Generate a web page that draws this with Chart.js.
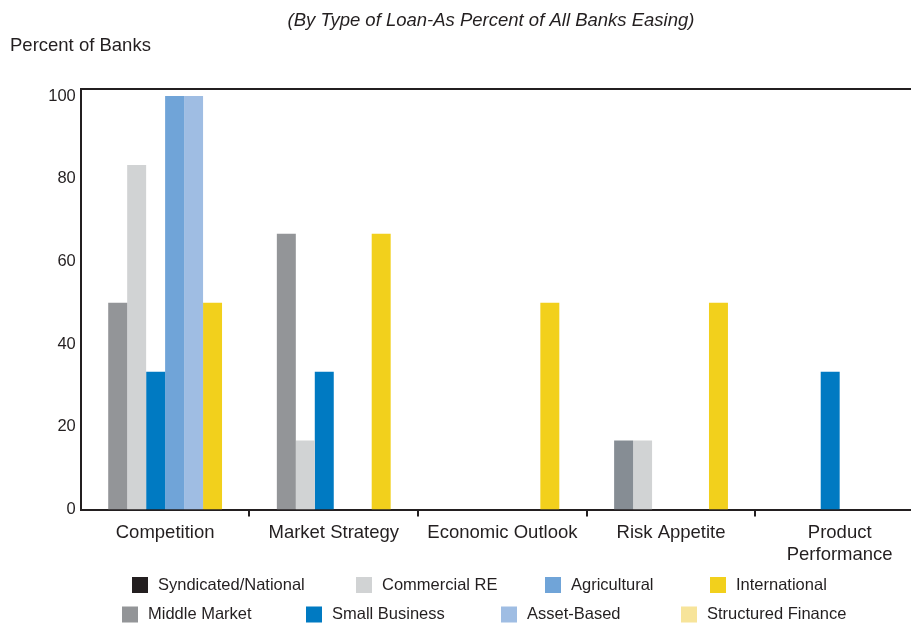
<!DOCTYPE html>
<html>
<head>
<meta charset="utf-8">
<script src="https://cdn.jsdelivr.net/npm/chart.js@4"></script>
<style>
  html, body { margin: 0; padding: 0; background: #ffffff; overflow: hidden; width: 911px; height: 623px; }
  /* the plot runs slightly past the right edge of the window */
  #wrap { width: 924px; height: 623px; position: relative; }
</style>
</head>
<body>
<div id="wrap"><canvas id="chart"></canvas></div>
<script>
// Reasons for easing, by type of loan (percent of all banks easing)
const categories = ['Competition', 'Market Strategy', 'Economic Outlook', 'Risk Appetite', ['Product', 'Performance']];
const yTickValues = [0, 20, 40, 60, 80, 100];

const syndicatedNational = [0, 0, 0, 0, 0];
const middleMarket       = [50, 66.7, 0, 16.7, 0];
const commercialRE       = [83.3, 16.7, 0, 16.7, 0];
const smallBusiness      = [33.3, 33.3, 0, 0, 33.3];
const agricultural       = [100, 0, 0, 0, 0];
const assetBased         = [100, 0, 0, 0, 0];
const international      = [50, 66.7, 50, 50, 0];
const structuredFinance  = [0, 0, 0, 0, 0];

const INK = '#231f20';
const FONT = "'Liberation Sans', Arial, Helvetica, sans-serif";

// Legend drawn below the axis in two rows, in this dataset order
const legendRows = [[0, 2, 4, 6], [1, 3, 5, 7]];
const legendLayout = {
  rowY: [585, 614.5],
  colX: [[132, 356, 545, 710], [122, 306, 501, 681]],
  box: 16,
  textGap: 26
};

const overlayText = {
  id: 'overlayText',
  afterDraw(chart) {
    const ctx = chart.ctx;
    ctx.save();
    ctx.fillStyle = INK;
    ctx.textBaseline = 'middle';

    ctx.font = 'italic 18.5px ' + FONT;
    ctx.textAlign = 'center';
    ctx.fillText('(By Type of Loan-As Percent of All Banks Easing)', 491, 21);

    ctx.font = '18.5px ' + FONT;
    ctx.textAlign = 'left';
    ctx.fillText('Percent of Banks', 10, 46);

    ctx.font = '16.5px ' + FONT;
    legendRows.forEach((row, r) => {
      row.forEach((di, c) => {
        const ds = chart.data.datasets[di];
        const x = legendLayout.colX[r][c];
        const y = legendLayout.rowY[r];
        ctx.fillStyle = ds.legendColor;
        ctx.fillRect(x, y - legendLayout.box / 2, legendLayout.box, legendLayout.box);
        ctx.fillStyle = INK;
        ctx.fillText(ds.label, x + legendLayout.textGap, y);
      });
    });
    ctx.restore();
  }
};

function series(label, data, color, colors) {
  return {
    label,
    data,
    backgroundColor: colors || color,
    legendColor: color,
    borderWidth: 0,
    categoryPercentage: 0.9,
    barPercentage: 1.0
  };
}

new Chart(document.getElementById('chart'), {
  type: 'bar',
  data: {
    labels: categories,
    datasets: [
      series('Syndicated/National', syndicatedNational, '#231f20'),
      series('Middle Market', middleMarket, '#939598',
             ['#939598', '#939598', '#939598', '#868d94', '#939598']),
      series('Commercial RE', commercialRE, '#d1d3d4'),
      series('Small Business', smallBusiness, '#007ac2'),
      series('Agricultural', agricultural, '#70a4d8'),
      series('Asset-Based', assetBased, '#9fbde3'),
      series('International', international, '#f2d01c'),
      series('Structured Finance', structuredFinance, '#f7e49a')
    ]
  },
  options: {
    responsive: true,
    maintainAspectRatio: false,
    animation: false,
    events: [],
    layout: { padding: { top: 89, left: 0.8, right: 0, bottom: 48.5 } },
    plugins: {
      legend: { display: false },
      title: { display: false },
      tooltip: { enabled: false }
    },
    scales: {
      x: {
        position: 'bottom',
        offset: true,
        grid: {
          display: true,
          offset: true,
          drawOnChartArea: false,
          drawTicks: true,
          tickLength: 7,
          lineWidth: 2,
          tickWidth: 2,
          color: INK,
          tickColor: (ctx) => (ctx.index === 0 || ctx.index === categories.length) ? 'rgba(0,0,0,0)' : INK
        },
        border: { display: true, color: INK, width: 2 },
        ticks: {
          color: INK,
          font: { family: FONT, size: 18.5 },
          padding: 5,
          maxRotation: 0,
          autoSkip: false
        },
        afterFit(scale) { scale.height = 65; }
      },
      xTop: {
        type: 'category',
        position: 'top',
        labels: categories,
        grid: { display: false, drawTicks: false },
        border: { display: true, color: INK, width: 2 },
        ticks: { display: false },
        afterFit(scale) { scale.height = 0; }
      },
      y: {
        min: 0,
        max: 101.7,
        grid: { display: false, drawTicks: false },
        border: { display: true, color: INK, width: 2 },
        ticks: {
          color: INK,
          font: { family: FONT, size: 16.5 },
          padding: 5
        },
        afterBuildTicks(scale) {
          scale.ticks = yTickValues.map(v => ({ value: v }));
        },
        afterFit(scale) { scale.width = 80; }
      }
    }
  },
  plugins: [overlayText]
});
</script>
</body>
</html>
